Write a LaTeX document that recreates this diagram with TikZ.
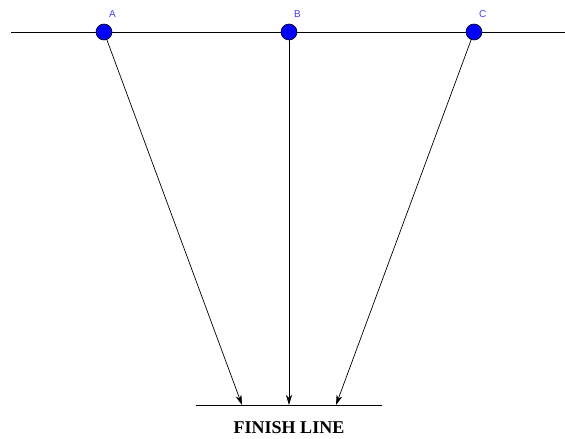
\documentclass[tikz,border=0pt]{standalone}
\usepackage{fontspec}
\setmainfont{Liberation Serif}
\newfontfamily\labelfont{Liberation Sans}
\usetikzlibrary{arrows.meta}

\tikzset{
    runner/.style={circle,draw=black,line width=0.6pt,fill=blue,minimum size=16pt,inner sep=0pt},
    runlabel/.style={text=blue!75!white,font=\labelfont\fontsize{10}{10}\selectfont},
    path/.style={line width=0.7pt,-{Stealth[length=10pt,width=6pt,inset=3pt]}}
}

\begin{document}
\begin{tikzpicture}[x=1pt,y=-1pt]
    \useasboundingbox (0,0) rectangle (565,439);
    % start line
    \coordinate (startl) at (11,32);
    \coordinate (startr) at (565,32);
    \draw[line width=0.7pt] (startl) -- (startr);
    \foreach \n/\x in {A/104, B/289, C/474}
    \node[runner,label={[runlabel,label distance=3pt]82:\n}] (\n) at (\x,32) {};
    % finish line
    \coordinate (finl) at (196,405);
    \coordinate (finr) at (382,405);
    \draw[line width=0.7pt] (finl) -- (finr);
    \node[font=\bfseries\fontsize{18}{18}\selectfont] (fin) at (289,428) {FINISH LINE};
    \coordinate (endA) at (242,405);
    \coordinate (endB) at (289,405);
    \coordinate (endC) at (336,405);
    \draw[path] (A) -- (endA);
    \draw[path] (B) -- (endB);
    \draw[path] (C) -- (endC);
\end{tikzpicture}
\end{document}
